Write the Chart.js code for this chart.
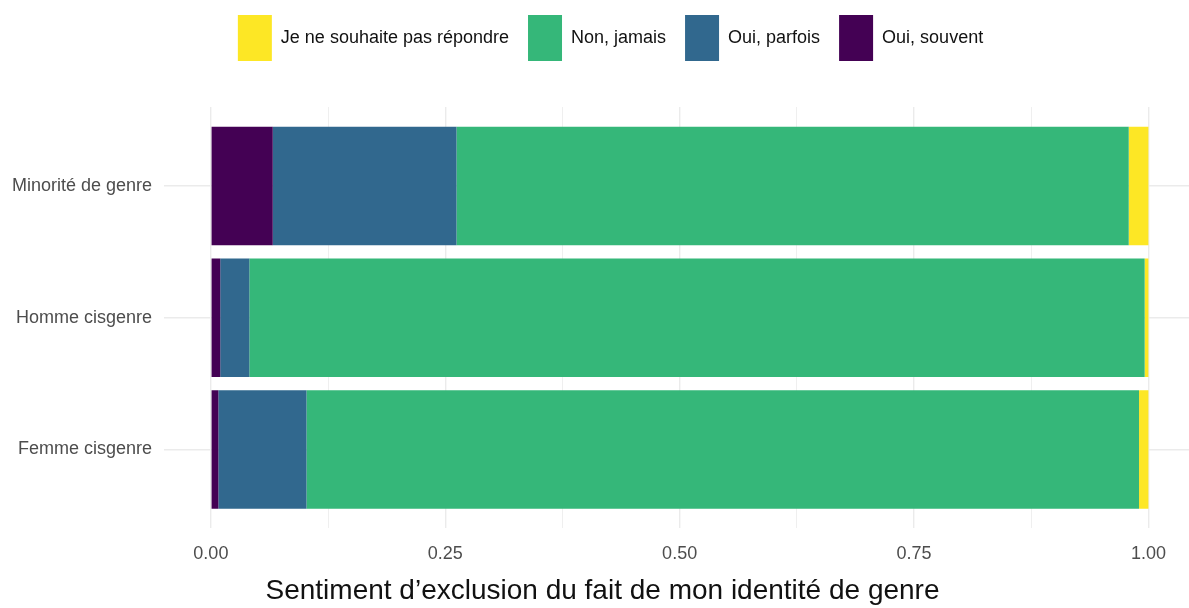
<!DOCTYPE html>
<html>
<head>
<meta charset="utf-8">
<script src="https://cdn.jsdelivr.net/npm/chart.js@4.4.1/dist/chart.umd.min.js"></script>
<style>
  html, body { margin: 0; padding: 0; background: #fff; }
  #wrap { width: 1189px; height: 608px; }
</style>
</head>
<body>
<div id="wrap"><canvas id="chart"></canvas></div>
<script>
// categories (top to bottom)
const categories = ['Minorité de genre', 'Homme cisgenre', 'Femme cisgenre'];

// shares per answer
const ouiSouvent = [0.066, 0.010, 0.008];
const ouiParfois = [0.196, 0.031, 0.094];
const nonJamais = [0.717, 0.955, 0.888];
const nePasRepondre = [0.021, 0.004, 0.010];

const xTicks = [0, 0.125, 0.25, 0.375, 0.5, 0.625, 0.75, 0.875, 1];
const axisTitle = 'Sentiment d\u2019exclusion du fait de mon identité de genre';

const sans = "'Liberation Sans', Arial, sans-serif";

const toPoints = arr => arr.map((v, i) => ({ x: v, y: i }));

const datasets = [
  { label: 'Oui, souvent', data: toPoints(ouiSouvent), backgroundColor: '#440154' },
  { label: 'Oui, parfois', data: toPoints(ouiParfois), backgroundColor: '#31688E' },
  { label: 'Non, jamais', data: toPoints(nonJamais), backgroundColor: '#35B779' },
  { label: 'Je ne souhaite pas répondre', data: toPoints(nePasRepondre), backgroundColor: '#FDE725' }
];

// extra room under the legend, and nudge legend / title
const layoutTweaks = {
  id: 'layoutTweaks',
  beforeInit(chart) {
    const fit = chart.legend.fit;
    chart.legend.fit = function () {
      fit.bind(chart.legend)();
      this.height += 32;
    };
  },
  afterLayout(chart) {
    chart.legend.left += 16;
    chart.legend.right += 16;
    chart.legend.top -= 4;
    if (chart.titleBlock) {
      chart.titleBlock.left += 8;
      chart.titleBlock.right += 8;
    }
  }
};

new Chart(document.getElementById('chart'), {
  type: 'bar',
  data: { datasets },
  plugins: [layoutTweaks],
  options: {
    indexAxis: 'y',
    responsive: true,
    maintainAspectRatio: false,
    animation: false,
    layout: { padding: 0 },
    datasets: { bar: { categoryPercentage: 1, barPercentage: 0.9, borderWidth: 0 } },
    plugins: {
      tooltip: { enabled: false },
      legend: {
        position: 'top',
        reverse: true,
        labels: {
          boxWidth: 34,
          boxHeight: 46,
          padding: 19,
          color: '#111',
          font: { family: sans, size: 18 }
        }
      },
      title: {
        display: true,
        position: 'bottom',
        text: axisTitle,
        color: '#111',
        font: { family: sans, size: 28, weight: 'normal' },
        padding: { top: 4, bottom: 0 }
      }
    },
    scales: {
      x: {
        type: 'linear',
        stacked: true,
        min: -0.05,
        max: 1.0433,
        afterBuildTicks: s => { s.ticks = xTicks.map(v => ({ value: v })); },
        afterFit: s => { s.height = 42; },
        border: { display: false },
        grid: {
          drawTicks: false,
          color: '#ebebeb',
          lineWidth: c => (c.tick && c.tick.value % 0.25 === 0 ? 1.4 : 0.8)
        },
        ticks: {
          autoSkip: false,
          maxRotation: 0,
          padding: 15,
          color: '#4d4d4d',
          font: { family: sans, size: 18 },
          callback: v => (v % 0.25 === 0 ? v.toFixed(2) : '')
        }
      },
      y: {
        type: 'linear',
        stacked: true,
        reverse: true,
        offset: false,
        min: -0.6,
        max: 2.6,
        afterBuildTicks: s => { s.ticks = categories.map((c, i) => ({ value: i })); },
        afterFit: s => { s.width = 164; },
        border: { display: false },
        grid: { drawTicks: false, offset: false, color: '#ebebeb', lineWidth: 1.4 },
        ticks: {
          autoSkip: false,
          padding: 12,
          color: '#4d4d4d',
          font: { family: sans, size: 18 },
          callback: v => categories[v]
        }
      }
    }
  }
});
</script>
</body>
</html>
